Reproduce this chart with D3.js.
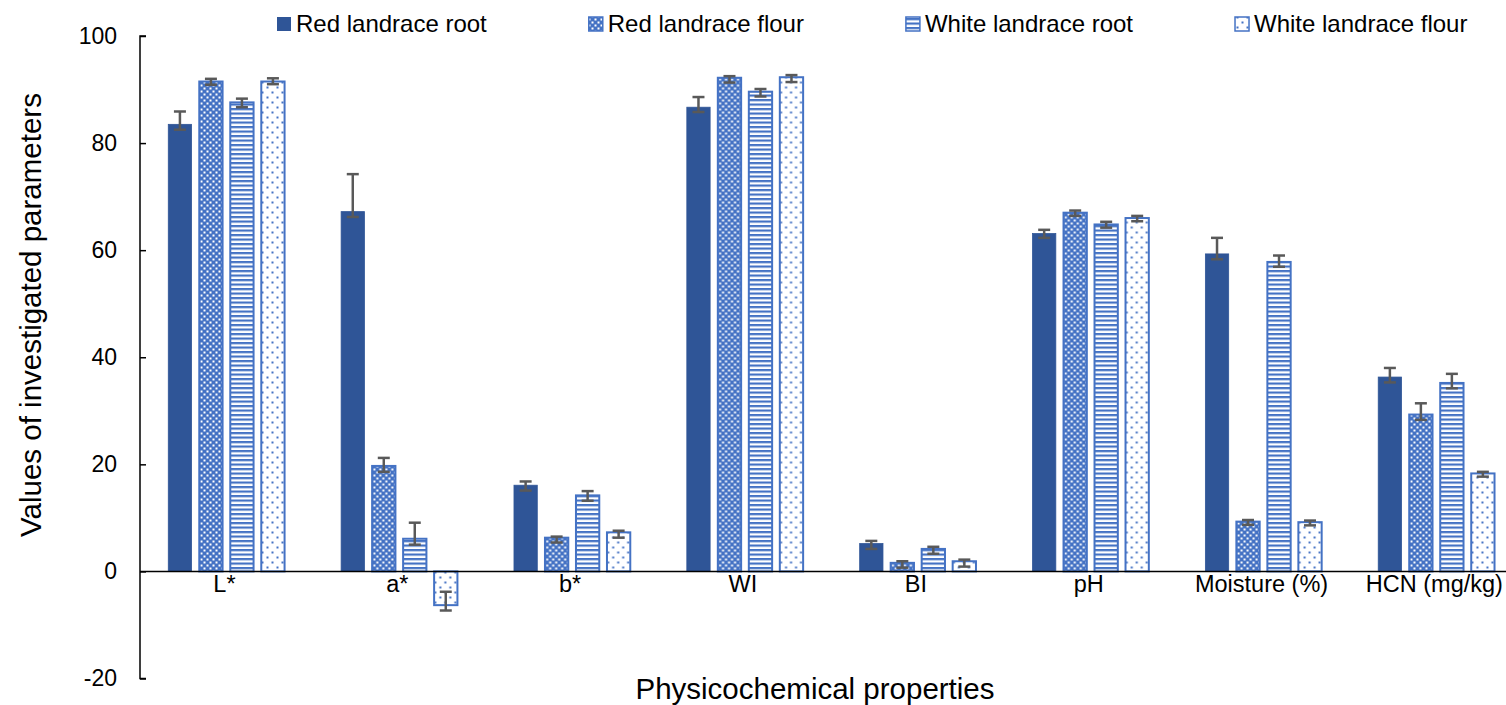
<!DOCTYPE html>
<html>
<head>
<meta charset="utf-8">
<script src="https://cdn.jsdelivr.net/npm/d3@7"></script>
<style>
  html, body { margin: 0; padding: 0; background: #fff; }
  svg { display: block; font-family: "Liberation Sans", Arial, sans-serif; }
</style>
</head>
<body>
<svg id="chart" width="1506" height="705"></svg>
<script>
// Physicochemical properties of red and white cassava landraces (mean with error range)
const categories = ["L*", "a*", "b*", "WI", "BI", "pH", "Moisture (%)", "HCN (mg/kg)"];
const seriesNames = ["Red landrace root", "Red landrace flour", "White landrace root", "White landrace flour"];

const redRoot     = [83.5, 67.2, 16.1, 86.7, 5.2, 63.1, 59.3, 36.3];
const redRootHi   = [85.9, 74.2, 16.8, 88.6, 5.7, 63.8, 62.3, 38.0];
const redRootLo   = [82.5, 66.2, 15.1, 85.8, 4.2, 62.3, 58.3, 35.3];

const redFlour    = [91.5, 19.7, 6.3, 92.2, 1.6, 67.0, 9.3, 29.3];
const redFlourHi  = [92.0, 21.2, 6.5, 92.5, 1.9, 67.4, 9.6, 31.4];
const redFlourLo  = [90.9, 18.6, 5.4, 91.3, 0.7, 66.4, 8.7, 28.3];

const whiteRoot   = [87.6, 6.1, 14.2, 89.6, 4.2, 64.8, 57.8, 35.2];
const whiteRootHi = [88.3, 9.1, 15.0, 90.1, 4.6, 65.3, 59.0, 36.9];
const whiteRootLo = [86.7, 5.0, 13.2, 88.7, 3.3, 64.2, 56.9, 34.2];

const whiteFlour   = [91.5, -6.3, 7.3, 92.3, 1.9, 66.0, 9.2, 18.3];
const whiteFlourHi = [92.1, -3.8, 7.6, 92.7, 2.2, 66.4, 9.5, 18.6];
const whiteFlourLo = [91.0, -7.3, 6.3, 91.4, 0.9, 65.4, 8.6, 17.7];

const yTicks = [-20, 0, 20, 40, 60, 80, 100];

const series = [
  { name: seriesNames[0], values: redRoot,    hi: redRootHi,    lo: redRootLo,    fill: "#2F5597",        stroke: "#2F5597" },
  { name: seriesNames[1], values: redFlour,   hi: redFlourHi,   lo: redFlourLo,   fill: "url(#pChecker)", stroke: "#4472C4" },
  { name: seriesNames[2], values: whiteRoot,  hi: whiteRootHi,  lo: whiteRootLo,  fill: "url(#pStripes)", stroke: "#4472C4" },
  { name: seriesNames[3], values: whiteFlour, hi: whiteFlourHi, lo: whiteFlourLo, fill: "url(#pDots)",    stroke: "#4472C4" }
];

const svg = d3.select("#chart");
const blue = "#4472C4";

// fill patterns
const defs = svg.append("defs");
const checker = defs.append("pattern").attr("id", "pChecker")
  .attr("patternUnits", "userSpaceOnUse").attr("width", 6).attr("height", 6);
checker.append("rect").attr("width", 6).attr("height", 6).attr("fill", blue);
checker.append("rect").attr("x", 0.5).attr("y", 0.5).attr("width", 2).attr("height", 2).attr("fill", "#fff");
checker.append("rect").attr("x", 3.5).attr("y", 3.5).attr("width", 2).attr("height", 2).attr("fill", "#fff");

const stripes = defs.append("pattern").attr("id", "pStripes")
  .attr("patternUnits", "userSpaceOnUse").attr("width", 8).attr("height", 4.5);
stripes.append("rect").attr("width", 8).attr("height", 4.5).attr("fill", "#fff");
stripes.append("rect").attr("y", 0).attr("width", 8).attr("height", 2.2).attr("fill", blue);

const dots = defs.append("pattern").attr("id", "pDots")
  .attr("patternUnits", "userSpaceOnUse").attr("width", 10).attr("height", 10);
dots.append("rect").attr("width", 10).attr("height", 10).attr("fill", "#fff");
dots.append("rect").attr("x", 1.5).attr("y", 1.5).attr("width", 2).attr("height", 2).attr("fill", blue);
dots.append("rect").attr("x", 6.5).attr("y", 6.5).attr("width", 2).attr("height", 2).attr("fill", blue);

// scales
const x0 = d3.scaleBand().domain(categories).range([140, 1522.8]).paddingInner(0).paddingOuter(0);
const x1 = d3.scaleBand().domain(seriesNames).range([0, x0.bandwidth()]).paddingInner(0.2).paddingOuter(0.888);
const y = d3.scaleLinear().domain([-20, 100]).range([678.5, 36]);

// y axis with inward ticks
const yAxis = svg.append("g").attr("transform", "translate(140,0)")
  .call(d3.axisRight(y).tickValues(yTicks).tickSize(6).tickFormat(d => String(d)));
yAxis.select(".domain").attr("stroke", "#000").attr("stroke-width", 1.5).attr("d", `M6,${y(-20)}H0V${y(100)}H6`);
yAxis.selectAll(".tick line").attr("stroke", "#000").attr("stroke-width", 1.5);
yAxis.selectAll(".tick text").attr("x", -23).attr("text-anchor", "end")
  .attr("font-size", 23).attr("fill", "#000").attr("font-family", "Liberation Sans, Arial, sans-serif");

// bars
const groups = svg.append("g").selectAll("g").data(categories).join("g")
  .attr("transform", d => `translate(${x0(d)},0)`);

series.forEach(s => {
  groups.append("rect")
    .attr("x", x1(s.name) + 0.75)
    .attr("width", x1.bandwidth() - 1.5)
    .attr("y", (d, i) => y(Math.max(0, s.values[i])))
    .attr("height", (d, i) => Math.abs(y(s.values[i]) - y(0)))
    .attr("fill", s.fill)
    .attr("stroke", s.stroke)
    .attr("stroke-width", s.name === seriesNames[0] ? 0.8 : 2);
});

// x axis line at zero
svg.append("line")
  .attr("x1", 140).attr("x2", 1506)
  .attr("y1", y(0)).attr("y2", y(0))
  .attr("stroke", "#000").attr("stroke-width", 1.5);

// error bars
const errColor = "#595959";
series.forEach(s => {
  const eg = groups.append("g").attr("stroke", errColor).attr("stroke-width", 2.5);
  const cx = x1(s.name) + x1.bandwidth() / 2;
  eg.append("line").attr("x1", cx).attr("x2", cx)
    .attr("y1", (d, i) => y(s.hi[i])).attr("y2", (d, i) => y(s.lo[i]));
  eg.append("line").attr("x1", cx - 6).attr("x2", cx + 6)
    .attr("y1", (d, i) => y(s.hi[i])).attr("y2", (d, i) => y(s.hi[i]));
  eg.append("line").attr("x1", cx - 6).attr("x2", cx + 6)
    .attr("y1", (d, i) => y(s.lo[i])).attr("y2", (d, i) => y(s.lo[i]));
});

// category labels
svg.append("g").selectAll("text").data(categories).join("text")
  .attr("x", d => x0(d) + x0.bandwidth() / 2 - 2)
  .attr("y", y(0) + 21)
  .attr("text-anchor", "middle")
  .attr("font-size", 23.5)
  .attr("fill", "#000")
  .text(d => d);

// axis titles
svg.append("text")
  .attr("x", 815).attr("y", 699)
  .attr("text-anchor", "middle")
  .attr("font-size", 29.5)
  .attr("fill", "#000")
  .text("Physicochemical properties");

svg.append("text")
  .attr("transform", "translate(41,315) rotate(-90)")
  .attr("text-anchor", "middle")
  .attr("font-size", 29.5)
  .attr("fill", "#000")
  .text("Values of investigated parameters");

// legend laid out left to right
const legend = svg.append("g");
let lx = 277;
series.forEach(s => {
  legend.append("rect")
    .attr("x", lx).attr("y", 17).attr("width", 14).attr("height", 14)
    .attr("fill", s.fill).attr("stroke", s.stroke).attr("stroke-width", s.name === seriesNames[0] ? 0 : 1.5);
  const t = legend.append("text")
    .attr("x", lx + 19).attr("y", 32)
    .attr("font-size", 24).attr("fill", "#000")
    .text(s.name);
  lx += 19 + t.node().getComputedTextLength() + 102;
});
</script>
</body>
</html>
